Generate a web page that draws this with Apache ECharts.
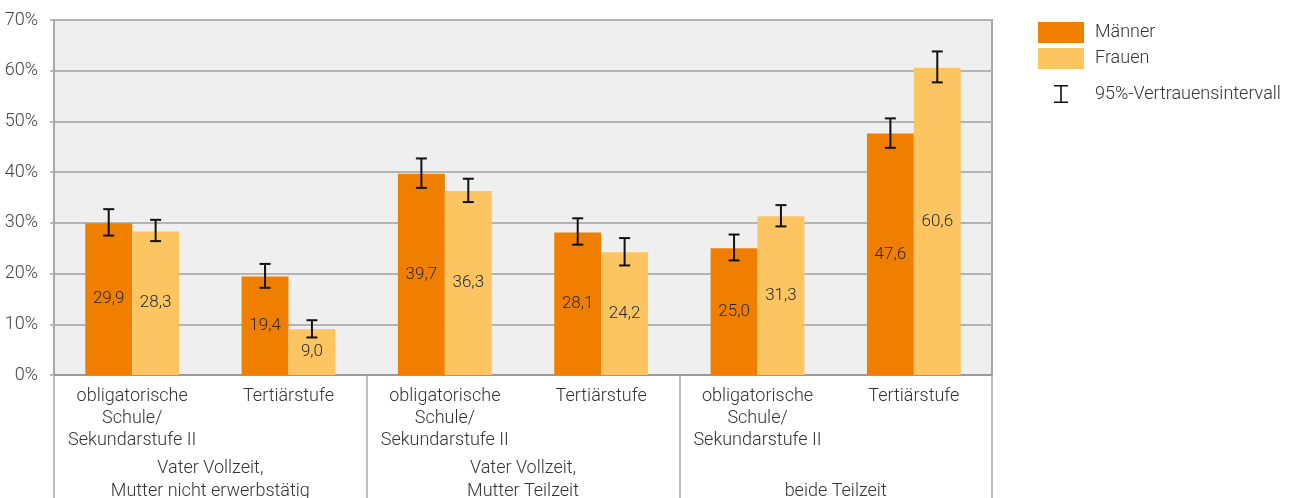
<!DOCTYPE html>
<html>
<head>
<meta charset="utf-8">
<script src="https://cdn.jsdelivr.net/npm/echarts@6/dist/echarts.min.js"></script>
<style>
  html, body { margin: 0; padding: 0; background: #ffffff; }
  #chart { width: 1293px; height: 498px; }
</style>
</head>
<body>
<div id="chart"></div>
<script>
// Education levels (inner axis) and household arrangements (outer axis)
const categories = [
  'obligatorische\nSchule/\nSekundarstufe II', 'Tertiärstufe',
  'obligatorische\nSchule/\nSekundarstufe II', 'Tertiärstufe',
  'obligatorische\nSchule/\nSekundarstufe II', 'Tertiärstufe'
];
const groups = [
  'Vater Vollzeit,\nMutter nicht erwerbstätig',
  'Vater Vollzeit,\nMutter Teilzeit',
  '\nbeide Teilzeit'
];

// Shares in percent
const maenner = [29.9, 19.4, 39.7, 28.1, 25.0, 47.6];
const frauen  = [28.3,  9.0, 36.3, 24.2, 31.3, 60.6];

// 95% confidence bounds
const maennerLow  = [27.5, 17.2, 36.9, 25.7, 22.6, 44.8];
const maennerHigh = [32.7, 21.9, 42.7, 30.9, 27.7, 50.6];
const frauenLow   = [26.4,  7.4, 34.1, 21.6, 29.3, 57.7];
const frauenHigh  = [30.6, 10.8, 38.7, 27.0, 33.5, 63.8];

const yTicks = { min: 0, max: 70, interval: 10 };

const FONT = 'Roboto';
const fmt = v => v.toFixed(1).replace('.', ',');

// error bar rows: [category index, low, high, side (-1 left bar, +1 right bar)]
const ciData = [];
maenner.forEach((_, i) => ciData.push([i, maennerLow[i], maennerHigh[i], -1]));
frauen.forEach((_, i) => ciData.push([i, frauenLow[i], frauenHigh[i], 1]));

const chart = echarts.init(document.getElementById('chart'), null, { renderer: 'canvas' });

const valueLabel = {
  show: true,
  position: 'inside',
  color: '#2a2a2a',
  fontSize: 17,
  fontFamily: FONT,
  fontWeight: 300,
  formatter: p => fmt(p.value)
};

const legendText = { fontSize: 18, color: '#333', fontFamily: FONT, fontWeight: 300, padding: [0, 0, 0, 6] };

chart.setOption({
  animation: false,
  textStyle: { fontFamily: FONT, fontWeight: 300 },
  grid: {
    left: 54, right: 301, top: 20, bottom: 123,
    outerBoundsMode: 'none',
    containLabel: false,
    show: true,
    backgroundColor: '#efefef',
    borderColor: '#a8a8a8',
    borderWidth: 2
  },
  legend: [
    {
      data: ['Männer', 'Frauen'],
      orient: 'vertical',
      left: 1038, top: 22, padding: 0,
      itemWidth: 46, itemHeight: 21, itemGap: 5,
      icon: 'rect',
      textStyle: legendText
    },
    {
      data: [{ name: '95%-Vertrauensintervall',
               icon: 'path://M0,0H14V1.6H7.8V16.4H14V18H0V16.4H6.2V1.6H0Z' }],
      left: 1054, top: 85, padding: 0,
      itemWidth: 46, itemHeight: 18,
      textStyle: legendText
    }
  ],
  xAxis: [
    {
      type: 'category',
      data: categories,
      axisLine: { show: true, lineStyle: { color: '#999', width: 2 } },
      axisTick: { show: false },
      axisLabel: {
        interval: 0, margin: 10,
        color: '#333', fontSize: 18, lineHeight: 22,
        fontFamily: FONT, fontWeight: 300
      }
    },
    {
      type: 'category',
      data: groups,
      position: 'bottom',
      axisLine: { show: false },
      axisTick: { show: true, length: 130, interval: 0, lineStyle: { color: '#a8a8a8', width: 1.5 } },
      axisLabel: {
        interval: 0, margin: 82,
        color: '#333', fontSize: 18, lineHeight: 23,
        fontFamily: FONT, fontWeight: 300
      }
    }
  ],
  yAxis: {
    type: 'value',
    min: yTicks.min, max: yTicks.max, interval: yTicks.interval,
    axisLine: { show: true, lineStyle: { color: '#a8a8a8', width: 2 } },
    axisTick: { show: true, length: 4, lineStyle: { color: '#a8a8a8', width: 1.5 } },
    axisLabel: {
      formatter: '{value}%', margin: 16,
      color: '#444', fontSize: 18, fontFamily: FONT, fontWeight: 300
    },
    splitLine: { show: true, lineStyle: { color: '#b4b4b4', width: 2 } }
  },
  series: [
    {
      name: 'Männer', type: 'bar', data: maenner,
      barGap: '0%', barCategoryGap: '40%',
      itemStyle: { color: '#f07f00' },
      label: valueLabel
    },
    {
      name: 'Frauen', type: 'bar', data: frauen,
      barGap: '0%', barCategoryGap: '40%',
      itemStyle: { color: '#fcc562' },
      label: valueLabel
    },
    {
      name: '95%-Vertrauensintervall',
      type: 'custom',
      z: 5,
      itemStyle: { color: '#111' },
      data: ciData,
      encode: { x: 0, y: [1, 2] },
      renderItem: function (params, api) {
        const idx = api.value(0);
        const lo = api.coord([idx, api.value(1)]);
        const hi = api.coord([idx, api.value(2)]);
        const band = api.size([1, 0])[0];
        const cx = lo[0] + api.value(3) * band * 0.15;
        const half = 5.5;
        const style = { stroke: '#111', lineWidth: 2 };
        return {
          type: 'group',
          children: [
            { type: 'line', shape: { x1: cx, y1: hi[1], x2: cx, y2: lo[1] }, style: style },
            { type: 'line', shape: { x1: cx - half, y1: hi[1], x2: cx + half, y2: hi[1] }, style: style },
            { type: 'line', shape: { x1: cx - half, y1: lo[1], x2: cx + half, y2: lo[1] }, style: style }
          ]
        };
      }
    }
  ]
});
</script>
</body>
</html>
